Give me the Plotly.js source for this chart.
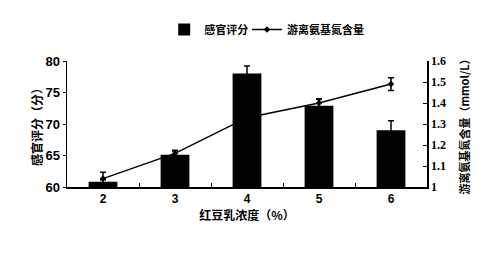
<!DOCTYPE html>
<html><head><meta charset="utf-8">
<script src="https://cdn.plot.ly/plotly-3.0.1.min.js"></script>
<style>html,body{margin:0;padding:0;background:#fff}</style>
</head><body><div id="chart" style="width:501px;height:259px"></div>
<script>
const categories = ["2","3","4","5","6"];
const sensoryScore = [60.85, 65.1, 78.0, 72.9, 69.0];
const sensoryErr = [0.3, 0.6, 1.2, 1.0, 1.5];
const aminoN = [1.04, 1.16, 1.33, 1.40, 1.49];
const aminoErr = [0.03, 0.015, 0.005, 0.02, 0.03];

const cjk = '"Noto Sans CJK SC", sans-serif';
const legFont = {family:cjk, size:11, color:'#000', weight:'bold'};
const data = [
  {type:'bar', name:'感官评分', x:categories, y:sensoryScore, width:0.4, legend:'legend',
   marker:{color:'#000'},
   error_y:{type:'data', array:sensoryErr, visible:true, color:'#000', thickness:1.5, width:3}},
  {type:'scatter', mode:'lines+markers', name:'游离氨基氮含量', x:categories, y:aminoN, yaxis:'y2', legend:'legend2',
   line:{color:'#000', width:1.5}, marker:{symbol:'diamond', size:5, color:'#000'},
   error_y:{type:'data', array:aminoErr, visible:true, color:'#000', thickness:1.5, width:3}}
];
const layout = {
  width:501, height:259,
  margin:{l:67, r:74, t:61, b:72},
  paper_bgcolor:'#fff', plot_bgcolor:'#fff',
  showlegend:true,
  legend:{orientation:'h', x:0.27, xanchor:'left', y:1.25, yanchor:'middle', font:legFont, bgcolor:'rgba(0,0,0,0)'},
  legend2:{orientation:'h', x:0.5, xanchor:'left', y:1.25, yanchor:'middle', font:legFont, bgcolor:'rgba(0,0,0,0)'},
  xaxis:{type:'category', range:[-0.5,4.5], showline:true, linecolor:'#000', linewidth:1.5,
         ticks:'inside', tickson:'boundaries', ticklen:4, tickcolor:'#000', showgrid:false,
         tickfont:{family:'"Liberation Sans", Arial, sans-serif', size:12, color:'#000', weight:'bold'},
         title:{text:'红豆乳浓度（%）', font:{family:cjk, size:12, color:'#000', weight:'bold'}, standoff:0}},
  yaxis:{range:[60,80], dtick:5, showline:true, linecolor:'#000', linewidth:1.5, showgrid:false, zeroline:false,
         ticks:'outside', ticklen:3, tickcolor:'#000',
         tickfont:{family:'"Liberation Sans", Arial, sans-serif', size:13, color:'#000', weight:'bold'},
         title:{text:'感官评分（分）', font:{family:cjk, size:12, color:'#000', weight:'bold'}, standoff:0}},
  yaxis2:{range:[1,1.6], dtick:0.1, overlaying:'y', side:'right', showline:true, linecolor:'#000', linewidth:1.5,
          showgrid:false, zeroline:false, ticks:'inside', ticklen:4, tickcolor:'#000',
          tickfont:{family:'"Liberation Serif", serif', size:12, color:'#000', weight:'bold'},
          title:{text:'游离氨基氮含量（mmol/L）', font:{family:cjk, size:11, color:'#000', weight:'bold'}, standoff:16}},
  font:{family:cjk, color:'#000'}
};
Plotly.newPlot('chart', data, layout, {displayModeBar:false, staticPlot:true});
</script></body></html>
